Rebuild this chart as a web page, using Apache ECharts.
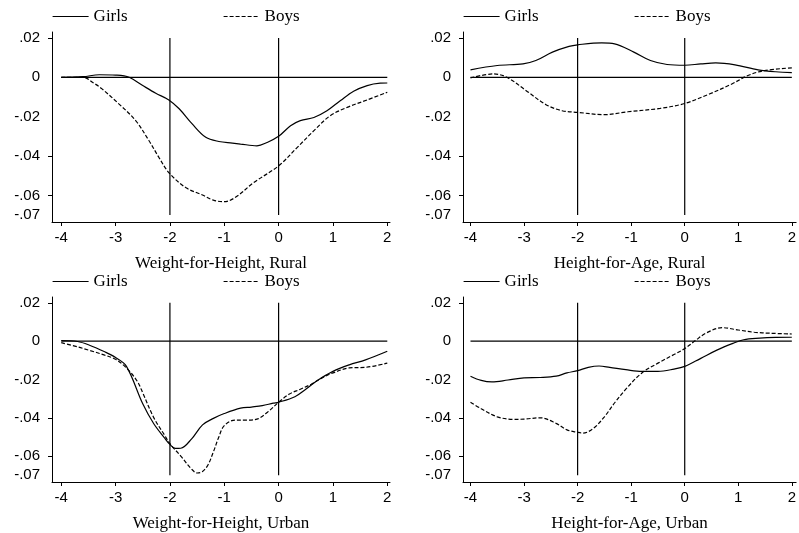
<!DOCTYPE html>
<html>
<head>
<meta charset="utf-8">
<script src="https://cdn.jsdelivr.net/npm/echarts@6/dist/echarts.min.js"></script>
<style>
  html, body { margin: 0; padding: 0; background: #fff; }
  #chart { width: 799px; height: 533px; }
</style>
</head>
<body>
<div id="chart"></div>
<script>
// Kernel-smoothed differences by z-score, girls vs boys, four panels.
// Each curve is a list of [z-score, difference] pairs.

const wfhRuralGirls = [[-4,0],[-3.6,0.0003],[-3.3,0.0013],[-3.0,0.0011],[-2.75,0],[-2.5,-0.0042],[-2.26,-0.0081],[-2.02,-0.0115],[-1.83,-0.016],[-1.59,-0.0237],[-1.34,-0.0305],[-1.1,-0.0326],[-0.85,-0.0334],[-0.7,-0.0339],[-0.4,-0.0348],[-0.21,-0.0331],[0,-0.030],[0.22,-0.0246],[0.4,-0.022],[0.65,-0.0204],[0.89,-0.017],[1.14,-0.0118],[1.38,-0.0071],[1.63,-0.0042],[1.87,-0.003],[2,-0.0029]];
const wfhRuralBoys = [[-4,0],[-3.6,0],[-3.4,-0.003],[-3.25,-0.0059],[-2.94,-0.0135],[-2.63,-0.022],[-2.39,-0.032],[-2.2,-0.0408],[-2.02,-0.0484],[-1.71,-0.056],[-1.4,-0.0598],[-1.2,-0.0624],[-1.0,-0.0632],[-0.78,-0.0607],[-0.46,-0.0535],[0,-0.045],[0.34,-0.0357],[0.65,-0.0271],[0.95,-0.0195],[1.26,-0.0153],[1.63,-0.0115],[2,-0.0076]];

const hfaRuralGirls = [[-4,0.0038],[-3.5,0.006],[-3.02,0.0068],[-2.78,0.0085],[-2.47,0.0128],[-2.16,0.0157],[-2,0.0165],[-1.55,0.0175],[-1.31,0.017],[-0.95,0.0128],[-0.64,0.0085],[-0.33,0.0065],[0,0.0061],[0.3,0.0068],[0.58,0.0073],[0.94,0.0063],[1.37,0.0038],[1.7,0.0028],[2,0.0024]];
const hfaRuralBoys = [[-4,-0.0003],[-3.57,0.0017],[-3.32,0],[-2.96,-0.0068],[-2.59,-0.0139],[-2.29,-0.017],[-2,-0.0178],[-1.5,-0.019],[-1.06,-0.0175],[-0.46,-0.0158],[0,-0.0133],[0.46,-0.0085],[0.88,-0.0034],[1.18,0.0009],[1.49,0.0034],[2,0.0048]];

const wfhUrbanGirls = [[-4,0.0003],[-3.7,-0.0002],[-3.5,-0.0019],[-3.2,-0.0056],[-3,-0.0086],[-2.8,-0.0132],[-2.5,-0.0327],[-2.3,-0.043],[-2.1,-0.0505],[-2,-0.0539],[-1.9,-0.056],[-1.8,-0.0559],[-1.6,-0.051],[-1.4,-0.0437],[-1.2,-0.0403],[-1,-0.0378],[-0.7,-0.035],[-0.5,-0.0344],[-0.3,-0.0337],[-0.1,-0.0324],[0,-0.0319],[0.3,-0.029],[0.5,-0.0251],[0.7,-0.0208],[1,-0.0158],[1.3,-0.0124],[1.6,-0.0098],[2,-0.0053]];
const wfhUrbanBoys = [[-4,-0.0008],[-3.7,-0.003],[-3.5,-0.0047],[-3.2,-0.0073],[-3,-0.0095],[-2.8,-0.014],[-2.6,-0.021],[-2.5,-0.027],[-2.3,-0.0398],[-2.1,-0.049],[-2,-0.0535],[-1.8,-0.060],[-1.6,-0.0668],[-1.5,-0.0688],[-1.4,-0.068],[-1.3,-0.0646],[-1.2,-0.0578],[-1.1,-0.050],[-1,-0.0441],[-0.8,-0.0412],[-0.6,-0.0412],[-0.4,-0.0407],[-0.2,-0.037],[0,-0.0319],[0.2,-0.0276],[0.4,-0.0251],[0.6,-0.0225],[0.8,-0.0192],[1,-0.0166],[1.3,-0.014],[1.6,-0.0137],[2,-0.0115]];

const hfaUrbanGirls = [[-4,-0.0183],[-3.8,-0.0205],[-3.6,-0.0213],[-3.3,-0.0203],[-3,-0.0192],[-2.7,-0.019],[-2.4,-0.0183],[-2.2,-0.0166],[-2,-0.0154],[-1.8,-0.0137],[-1.6,-0.013],[-1.4,-0.0137],[-1.1,-0.0149],[-0.8,-0.0158],[-0.5,-0.0158],[-0.2,-0.0146],[0,-0.0132],[0.3,-0.009],[0.6,-0.0047],[0.9,-0.0012],[1.1,0.0007],[1.4,0.0015],[1.7,0.0019],[2,0.002]];
const hfaUrbanBoys = [[-4,-0.0319],[-3.8,-0.0353],[-3.5,-0.0395],[-3.2,-0.0408],[-3,-0.0407],[-2.7,-0.040],[-2.4,-0.0429],[-2.2,-0.0463],[-2,-0.0476],[-1.9,-0.048],[-1.7,-0.0454],[-1.5,-0.0395],[-1.3,-0.0319],[-1.1,-0.0251],[-0.8,-0.0166],[-0.5,-0.0115],[-0.2,-0.007],[0,-0.0039],[0.2,0.0003],[0.4,0.0042],[0.7,0.007],[1,0.0058],[1.3,0.0046],[1.6,0.0041],[2,0.0037]];

const panelTitles = ['Weight-for-Height, Rural', 'Height-for-Age, Rural', 'Weight-for-Height, Urban', 'Height-for-Age, Urban'];
const girlsCurves = [wfhRuralGirls, hfaRuralGirls, wfhUrbanGirls, hfaUrbanGirls];
const boysCurves = [wfhRuralBoys, hfaRuralBoys, wfhUrbanBoys, hfaUrbanBoys];

const xTickValues = [-4, -3, -2, -1, 0, 1, 2];
const yTickValues = [0.02, 0, -0.02, -0.04, -0.06, -0.07];
const yTickLabels = ['.02', '0', '-.02', '-.04', '-.06', '-.07'];
const yTickMarks = [0.02, -0.04, -0.06];

// reference lines: verticals at z = -2 and z = 0, horizontal at zero
const refVerticalX = [-2, 0];
const refVerticalSpan = [0.02, -0.07];
const refHorizontalSpan = [-4, 2];

const serifFont = 'Liberation Serif';
const sansFont = 'Liberation Sans';
const ink = '#000';

const panelLayout = [
  { left: 52, top: 32, xMin: -4.17, xMax: 2.05 },
  { left: 463, top: 32, xMin: -4.14, xMax: 2.08 },
  { left: 52, top: 297, xMin: -4.17, xMax: 2.05 },
  { left: 463, top: 297, xMin: -4.14, xMax: 2.08 }
];
const gridW = 338, gridH = 190;

const grids = [], xAxes = [], yAxes = [], series = [], legends = [];

panelLayout.forEach((p, i) => {
  grids.push({ left: p.left, top: p.top, width: gridW, height: gridH, containLabel: false });
  xAxes.push({
    type: 'value', gridIndex: i, min: p.xMin, max: p.xMax,
    name: panelTitles[i], nameLocation: 'middle', nameGap: 33,
    nameTextStyle: { fontFamily: serifFont, fontSize: 17, color: ink },
    axisLine: { show: true, onZero: false, lineStyle: { color: ink, width: 1 } },
    axisTick: { show: true, length: 4, customValues: xTickValues, lineStyle: { color: ink } },
    axisLabel: { customValues: xTickValues, margin: 8, fontFamily: sansFont, fontSize: 15, color: ink,
      formatter: v => String(v) },
    splitLine: { show: false }
  });
  yAxes.push({
    type: 'value', gridIndex: i, min: -0.0735, max: 0.023,
    axisLine: { show: true, onZero: false, lineStyle: { color: ink, width: 1 } },
    axisTick: { show: true, length: 4, customValues: yTickMarks, lineStyle: { color: ink } },
    axisLabel: { customValues: yTickValues, margin: 12, fontFamily: sansFont, fontSize: 15, color: ink,
      formatter: v => {
        const k = yTickValues.findIndex(t => Math.abs(t - v) < 1e-9);
        return k >= 0 ? yTickLabels[k] : '';
      } },
    splitLine: { show: false }
  });

  refVerticalX.forEach(x => {
    series.push({
      type: 'line', xAxisIndex: i, yAxisIndex: i, silent: true, symbol: 'none',
      data: refVerticalSpan.map(y => [x, y]),
      lineStyle: { color: ink, width: 1.2 }, z: 1
    });
  });
  series.push({
    type: 'line', xAxisIndex: i, yAxisIndex: i, silent: true, symbol: 'none',
    data: refHorizontalSpan.map(x => [x, 0]),
    lineStyle: { color: ink, width: 1.2 }, z: 1
  });

  series.push({
    name: 'Girls', type: 'line', xAxisIndex: i, yAxisIndex: i, symbol: 'none', smooth: 0.35,
    data: girlsCurves[i], itemStyle: { color: ink }, lineStyle: { color: ink, width: 1.2 }, z: 3
  });
  series.push({
    name: 'Boys', type: 'line', xAxisIndex: i, yAxisIndex: i, symbol: 'none', smooth: 0.35,
    data: boysCurves[i], itemStyle: { color: ink }, lineStyle: { color: ink, width: 1.2, type: [4, 2] }, z: 3
  });

  const legendCommon = {
    top: p.top - 24, padding: 0, itemWidth: 36, itemHeight: 12, itemGap: 0, selectedMode: false,
    itemStyle: { color: 'transparent', borderColor: 'transparent', borderWidth: 0, opacity: 0 },
    lineStyle: { color: ink, width: 1.2 },
    textStyle: { fontFamily: serifFont, fontSize: 17, color: ink }
  };
  legends.push(Object.assign({ left: p.left, data: ['Girls'] }, legendCommon));
  legends.push(Object.assign({ left: p.left + 171, data: ['Boys'] }, legendCommon));
});

const chart = echarts.init(document.getElementById('chart'), null, { renderer: 'canvas' });
chart.setOption({
  animation: false,
  backgroundColor: '#fff',
  grid: grids,
  xAxis: xAxes,
  yAxis: yAxes,
  legend: legends,
  series: series
});
</script>
</body>
</html>
